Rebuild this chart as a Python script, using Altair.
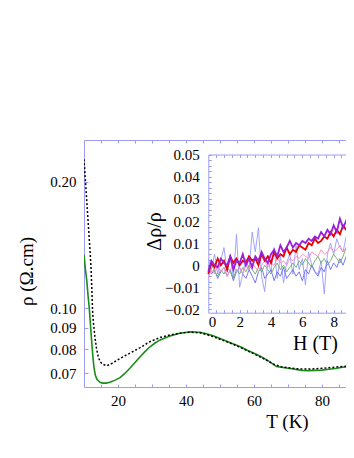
import altair as alt
import pandas as pd

# ---------------- main panel data (T in K, rho in Ohm.cm) ----------------
T_green = [10, 10.4, 10.8, 11.2, 11.6, 12.0, 12.3, 12.6, 12.9, 13.3, 13.8, 14.7, 15.5, 16.5,
           17.6, 19, 20.6, 22, 23.5, 25, 26.5, 28, 29.4, 31, 32.4, 35.3, 38.2, 41.2, 44.1,
           46, 48, 50, 52, 54, 56, 58, 60, 62, 64, 65.5, 66.6, 68, 70, 72, 74, 76, 78, 80,
           82, 84, 86, 88, 89.3]
rho_green = [0.134, 0.124, 0.1167, 0.107, 0.099, 0.089, 0.0826, 0.077, 0.0727, 0.0695, 0.0678,
             0.0667, 0.0664, 0.0664, 0.0667, 0.0674, 0.0684, 0.0700, 0.0720, 0.0743, 0.0767,
             0.0790, 0.0810, 0.0828, 0.0841, 0.0859, 0.0872, 0.0879, 0.0877, 0.0870, 0.0860,
             0.0848, 0.0835, 0.0822, 0.0810, 0.0795, 0.0782, 0.0768, 0.0752, 0.0738, 0.0727,
             0.0724, 0.0720, 0.0716, 0.0712, 0.0711, 0.0712, 0.0713, 0.0716, 0.0719, 0.0724,
             0.0727, 0.0729]

T_dot = [10, 10.6, 11.2, 11.8, 12.06, 12.3, 12.5, 12.8, 13.2, 13.7, 14.2, 14.7, 15.5, 16.7,
         18, 19.2, 20.6, 22, 23.5, 25, 26.5, 28, 29.4, 31, 32.4, 35.3, 38, 41, 44, 46, 48,
         50, 52, 54, 56, 58, 60, 62, 64, 66, 68, 70, 72, 74, 76, 78, 80, 82, 84, 86, 88, 89.3]
rho_dot = [0.226, 0.191, 0.161, 0.136, 0.1245, 0.112, 0.099, 0.092, 0.0856, 0.080, 0.0767,
           0.0747, 0.0736, 0.0730, 0.0738, 0.0748, 0.0760, 0.0771, 0.0782, 0.0794, 0.0806,
           0.0820, 0.0833, 0.0843, 0.0852, 0.0864, 0.0872, 0.0877, 0.0874, 0.0866, 0.0856,
           0.0844, 0.0832, 0.0820, 0.0807, 0.0793, 0.0779, 0.0765, 0.0750, 0.0735, 0.0726,
           0.0722, 0.0719, 0.0717, 0.0717, 0.0718, 0.0720, 0.0722, 0.0725, 0.0727, 0.0729,
           0.0730]

# ---------------- inset data (H in T, delta rho / rho in units of 1e-3) ----------------
H_vals = [0.0, 0.2, 0.4, 0.6, 0.8, 1.0, 1.2, 1.4, 1.6, 1.8, 2.0, 2.2, 2.4, 2.6, 2.8, 3.0,
          3.2, 3.4, 3.6, 3.8, 4.0, 4.2, 4.4, 4.6, 4.8, 5.0, 5.2, 5.4, 5.6, 5.8, 6.0, 6.2,
          6.4, 6.6, 6.8, 7.0, 7.2, 7.4, 7.6, 7.8, 8.0, 8.2, 8.4, 8.6, 8.8, 9.0, 9.2]
purple_m = [-3, 2, 0, -1, 3, 1, 0, 4, -2, 2, 1, 5, 0, 3, -1, 4, 2, 6, 3, 1, 5, 7, 4, 9, 6,
            8, 11, 8, 10, 9, 11, 10, 12, 11, 13, 12, 15, 13, 16, 14, 18, 15, 21, 17, 20, 25, 19]
red_m = [-4, 1, -1, 3, 0, 2, -2, 4, 1, 3, 0, 2, 1, 4, 2, 3, 0, 5, 2, 4, 1, 6, 3, 5, 4,
         8, 5, 7, 6, 9, 8, 7, 10, 9, 12, 10, 11, 13, 12, 15, 13, 16, 14, 18, 16, 20, 17]
pink_m = [-6, -2, -4, 0, -3, -1, -5, -2, 0, -3, -1, -4, 0, -2, 1, -1, -3, 0, 2, -1, 1, 0, 3, 1, 2,
          0, 3, 2, 4, 3, 5, 4, 3, 6, 5, 4, 7, 5, 6, 8, 6, 7, 9, 6, 8, 10, 9]
green_m = [-2, 1, -3, -5, -2, -4, -1, -3, -6, -2, -4, -1, -3, 0, -2, -4, -1, -3, 0, -2, -4, -1,
           1, -2, 0, -3, -1, 1, -1, 2, 0, 3, 1, -1, 2, 4, 1, 3, 0, 2, 5, 3, 1, 4, 8, 5, 7]
lblue_m = [3, -2, 5, -4, 2, 8, -3, 4, -6, 14, -10, -4, 3, -2, 15, 6, 17, -5, -12, 2, -3, 8, -6,
           4, -8, 1, 5, -4, 9, -2, 3, -9, 6, 0, -3, -4, 2, -13, 5, 10, 5, 12, 8, 6, 13, 9, 14]
blue_m = [0, -4, -2, -6, -3, -1, -5, -2, -7, -3, -1, -4, -6, -2, -5, -8, -3, -1, -6, -4, -2, -7,
          -3, -5, -1, -6, -4, -2, -5, -3, -7, -2, -4, 0, -3, -5, -1, -3, 2, -2, 1, -1, 3, 0, 4, 2, 5]

main_x_labels = [20, 40, 60, 80]
main_y_labels = [0.07, 0.08, 0.09, 0.10, 0.20]
inset_x_labels = [0, 2, 4, 6, 8]
inset_y_labels = [-0.02, -0.01, 0, 0.01, 0.02, 0.03, 0.04, 0.05]

# ---------------- styling ----------------
W, HT = 262, 247
PX_PER_K = 3.4
PX_PER_T = 15.67
AX = "#9c9cf0"
FONT = "Liberation Serif, Times New Roman, serif"
GREEN = "#1a8c1a"

def ax(**kw):
    base = dict(domainColor=AX, tickColor=AX, labelFont=FONT, titleFont=FONT,
                labelColor="black", titleColor="black", grid=False, labelFontSize=15,
                titleFontWeight="normal", domainWidth=1, tickWidth=1)
    base.update(kw)
    return alt.Axis(**base)

xs_main = alt.Scale(domain=[10, 10 + W / PX_PER_K], nice=False, zero=False)
ys_main = alt.Scale(type="log", domain=[0.065, 0.251], nice=False)
IN_L = 124.3
xs_in = alt.Scale(domain=[0, (W - IN_L) / PX_PER_T], range=[IN_L, W], nice=False, zero=False)
ys_in = alt.Scale(domain=[-0.0215, 0.0501], range=[172.7, 14.5], nice=False, zero=False)

main_minor = [15, 20, 25, 30, 35, 40, 45, 50, 55, 60, 65, 70, 75, 80, 85]
inset_x_minor = [0.5 * i for i in range(1, 18)]
inset_y_minor = [round(-0.02 + 0.0025 * i, 4) for i in range(0, 29)]

dg = pd.DataFrame({"T": T_green, "rho": rho_green})
dd = pd.DataFrame({"T": T_dot, "rho": rho_dot})

L_green = alt.Chart(dg).mark_line(color=GREEN, strokeWidth=1.6, clip=True).encode(
    x=alt.X("T:Q", scale=xs_main, axis=ax(
        orient="bottom", values=main_x_labels, ticks=False, labelPadding=6,
        title="T (K)", titleFontSize=19, titleX=203, titleY=34,
        titleBaseline="middle", titleAlign="center")),
    y=alt.Y("rho:Q", scale=ys_main, axis=ax(
        orient="left", values=main_y_labels, ticks=False, labelPadding=8, format=".2f",
        title="ρ (Ω.cm)", titleFontSize=19, titleAngle=270, titleX=-58, titleY=131,
        titleBaseline="middle", titleAlign="center")),
)

L_dot = alt.Chart(dd).mark_line(color="black", strokeWidth=1.5, strokeDash=[2, 2], clip=True).encode(
    x=alt.X("T:Q", scale=xs_main, axis=ax(
        orient="top", offset=-HT, values=main_minor, labels=False, domain=False,
        tickSize=3, title=None)),
    y=alt.Y("rho:Q", scale=ys_main, axis=ax(
        orient="right", offset=-W, values=main_y_labels, labels=False, domain=False,
        tickSize=4, title=None)),
)

L_top = alt.Chart(dd).mark_point(opacity=0, clip=True).encode(
    x=alt.X("T:Q", scale=xs_main, axis=ax(
        orient="bottom", offset=-HT, values=main_minor, labels=False, tickSize=3, title=None)),
    y=alt.Y("rho:Q", scale=ys_main, axis=None),
)

def inset_df(vals, name):
    return pd.DataFrame({"H": H_vals, "d": [v / 1000 for v in vals], "s": name})

L_lblue = alt.Chart(inset_df(lblue_m, "lb")).mark_line(color="#9a9aff", strokeWidth=0.9, clip=True).encode(
    x=alt.X("H:Q", scale=xs_in, axis=ax(
        orient="bottom", offset=-74.3, values=inset_x_labels, ticks=False, labelPadding=2,
        format="d", title="H (T)", titleFontSize=20, titleX=231, titleY=31,
        titleBaseline="middle", titleAlign="center")),
    y=alt.Y("d:Q", scale=ys_in, axis=ax(
        orient="left", offset=-IN_L, values=inset_y_labels, ticks=False, labelPadding=9,
        labelExpr="abs(datum.value) < 1e-9 ? '0' : format(datum.value, '.2f')",
        title="Δρ/ρ", titleFontSize=20, titleAngle=270, titleX=-54, titleY=91,
        titleBaseline="middle", titleAlign="center")),
)

L_blue = alt.Chart(inset_df(blue_m, "b")).mark_line(color="#6a6af0", strokeWidth=0.9, clip=True).encode(
    x=alt.X("H:Q", scale=xs_in, axis=ax(
        orient="top", offset=-172.7, values=inset_x_minor, labels=False, domain=False,
        tickSize=3, title=None)),
    y=alt.Y("d:Q", scale=ys_in, axis=ax(
        orient="right", offset=-(W - IN_L), values=inset_y_minor, labels=False, domain=False,
        tickSize=3, title=None)),
)

L_igreen = alt.Chart(inset_df(green_m, "g")).mark_line(color="#6aaa6a", strokeWidth=0.9, clip=True).encode(
    x=alt.X("H:Q", scale=xs_in, axis=ax(
        orient="bottom", offset=-(HT - 14.5), values=inset_x_minor, labels=False, tickSize=3,
        title=None)),
    y=alt.Y("d:Q", scale=ys_in, axis=None),
)

def plain(vals, name, color, width):
    return alt.Chart(inset_df(vals, name)).mark_line(color=color, strokeWidth=width, clip=True).encode(
        x=alt.X("H:Q", scale=xs_in, axis=None),
        y=alt.Y("d:Q", scale=ys_in, axis=None),
    )

L_pink = plain(pink_m, "p", "#ff8ac0", 0.9)
L_red = plain(red_m, "r", "#e60000", 1.8)
L_purple = plain(purple_m, "pu", "#9a1ee0", 1.8)

chart = alt.layer(
    L_green, L_dot, L_top, L_lblue, L_blue, L_igreen, L_pink, L_red, L_purple
).resolve_scale(x="independent", y="independent").resolve_axis(
    x="independent", y="independent"
).properties(
    width=W, height=HT,
    autosize=alt.AutoSizeParams(type="none"),
    padding={"left": 76, "top": 132, "right": 0, "bottom": 55},
    background="white",
).configure_view(stroke=None)

chart.save("out.html", embed_options={"renderer": "svg", "actions": False})
